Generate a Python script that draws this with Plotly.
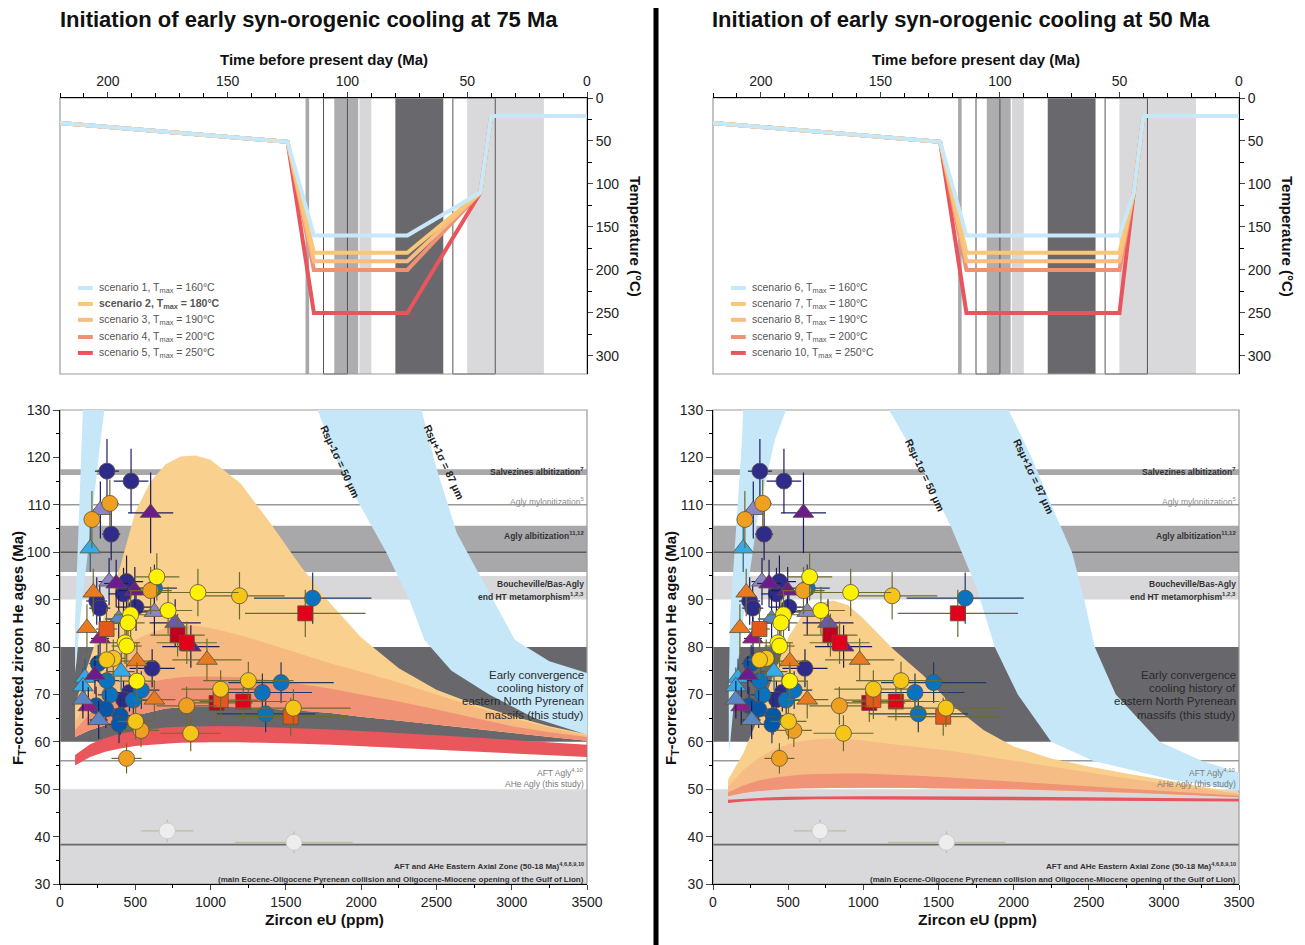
import plotly.graph_objects as go

FONT = 'Liberation Sans, Arial, sans-serif'

# ---------------- thermal histories (time in Ma, temperature in degC) ----------------
tt75_time = [220, 125, 114, 75, 44.5, 40, 0]
tt50_time = [220, 125, 114, 50, 44, 40, 0]
tt_start_temp = [29, 51]
tt_end_temp = [110, 21, 21]
tmax_list = [160, 180, 190, 200, 250]
names_75 = ['scenario 1, T<sub>max</sub> = 160°C', '<b>scenario 2, T<sub>max</sub> = 180°C</b>',
            'scenario 3, T<sub>max</sub> = 190°C', 'scenario 4, T<sub>max</sub> = 200°C',
            'scenario 5, T<sub>max</sub> = 250°C']
names_50 = ['scenario 6, T<sub>max</sub> = 160°C', 'scenario 7, T<sub>max</sub> = 180°C',
            'scenario 8, T<sub>max</sub> = 190°C', 'scenario 9, T<sub>max</sub> = 200°C',
            'scenario 10, T<sub>max</sub> = 250°C']

# geological event windows
event_bands_ma = [[117.5, 116], [105.5, 95.5], [95, 90], [80, 60], [50, 18]]
event_boxes_ma = [[110, 100], [56, 38.3]]
age_bands = [[116.3, 117.5], [95.8, 105.6], [90, 95], [60, 80], [30, 50]]
age_lines = [110, 100, 56, 38.3]

# ---------------- modelled age envelopes (eU in ppm, age in Ma) ----------------
env_eu = [100, 200, 300, 400, 500, 600, 700, 800, 900, 1000, 1200, 1400, 1600, 1800, 2000,
          2250, 2500, 2750, 3000, 3250, 3500]

env75_s2 = [68, 77.5, 87, 97, 108.5, 114.8, 118.5, 120.2, 120.4, 119.5, 114.5, 106, 97, 89, 82,
            75.5, 71, 68, 65.5, 63.3, 61.6]
env75_s3 = [64, 70, 75, 79, 81.5, 83, 84, 84.5, 84.5, 84, 82.5, 80.5, 78.5, 76.5, 74.8,
            72.5, 70, 67.5, 65, 63, 61.3]
env75_s4 = [62.5, 66, 68.5, 70.3, 71.7, 72.6, 73.2, 73.6, 73.8, 73.8, 73.6, 73, 72.2, 71.2, 70,
            68.5, 66.8, 65, 63.3, 62, 61.0]
env75_low = [61, 62.5, 63.5, 64.5, 65.5, 66.3, 67, 67.3, 67.5, 67.5, 67.3, 67, 66.6, 66.1, 65.3,
             64.5, 63.6, 62.8, 61.9, 61, 60.2]
env75_s5_top = [57.2, 59.5, 60.8, 61.7, 62.3, 62.7, 63.0, 63.2, 63.3, 63.3, 63.3, 63.1, 62.9, 62.6,
                62.3, 61.9, 61.4, 60.9, 60.4, 59.9, 59.4]
env75_s5_low = [55.0, 56.8, 57.9, 58.6, 59.1, 59.4, 59.6, 59.8, 59.9, 59.9, 59.9, 59.8, 59.6, 59.4,
                59.1, 58.8, 58.4, 58.0, 57.6, 57.2, 56.8]

env50_s7 = [52, 57.5, 65, 74, 82, 87, 89.3, 89.8, 88.8, 86, 79.5, 74, 67.5, 62.5, 59,
            56.5, 54.8, 53.3, 52, 50.5, 49.2]
env50_s8 = [50.5, 54, 56.5, 58.3, 59.5, 60.2, 60.6, 60.7, 60.6, 60.3, 59.5, 58.8, 58, 57, 56,
            54.7, 53.5, 52.3, 51.2, 50.2, 49]
env50_s9 = [49.3, 50.8, 51.8, 52.4, 52.8, 53.1, 53.2, 53.3, 53.3, 53.3, 53.1, 52.8, 52.4, 52, 51.6,
            51.1, 50.6, 50.1, 49.6, 49.1, 48.6]
env50_low = [48.5, 49.2, 49.6, 49.9, 50.1, 50.2, 50.3, 50.3, 50.3, 50.3, 50.3, 50.2, 50.2, 50.1, 50.0,
             49.8, 49.6, 49.3, 49.0, 48.7, 48.3]
env50_s10_top = [47.8, 48.0, 48.2, 48.3, 48.4, 48.45, 48.5, 48.5, 48.5, 48.5, 48.5, 48.5, 48.5, 48.45,
                 48.4, 48.35, 48.3, 48.2, 48.1, 48.05, 48.0]
env50_s10_low = [47.1, 47.4, 47.6, 47.7, 47.8, 47.85, 47.9, 47.9, 47.9, 47.9, 47.9, 47.9, 47.9, 47.85,
                 47.8, 47.75, 47.7, 47.6, 47.5, 47.45, 47.4]

# scenario 1 / 6 envelope (Rs 50-87 um), only the parts below 130 Ma
sliver75_eu = [100, 100, 117, 144, 152, 295, 270, 185, 133, 110]
sliver75_age = [74.5, 85.7, 100, 123.7, 130, 130, 123.7, 100, 85.7, 77]
sliver50_eu = [105, 105, 113, 160, 193, 200, 486, 412, 300, 200, 150, 115]
sliver50_age = [57.7, 70, 85.7, 108, 123.7, 130, 130, 123.7, 108, 85.7, 72, 60]

rs50_75_eu = [1711, 1830, 1973, 2167, 2320, 2420, 2600, 2850, 3150, 3500]
rs50_75_age = [130, 120, 111, 100, 90, 81.5, 75, 70, 65, 61.5]
rs87_75_eu = [2401, 2498, 2636, 2830, 3022, 3250, 3500]
rs87_75_age = [130, 118, 104, 92.7, 81.5, 77, 74.5]
rs50_50_eu = [1172, 1389, 1583, 1750, 1875, 2028, 2250, 2528, 3056, 3500]
rs50_50_age = [130, 118, 105.4, 92.8, 80, 70, 60, 56, 52, 49.8]
rs87_50_eu = [1967, 2120, 2250, 2389, 2470, 2540, 2680, 2972, 3250, 3500]
rs87_50_age = [130, 120, 110, 100, 90, 80, 70, 60, 56, 53.5]

# ---------------- measured zircon (U-Th)/He ages ----------------
pt_kind = (['nc'] * 11 + ['bc'] * 9 + ['dc'] * 5 + ['oc'] * 6 + ['yc'] * 8 + ['gc'] * 8 +
           ['lbt'] * 4 + ['lvt'] * 3 + ['spt'] + ['pt'] * 5 + ['mt'] * 2 + ['ot'] * 5 +
           ['sbt'] * 3 + ['rs'] * 3 + ['drs'] * 2 + ['ors'] * 3 + ['gp'] * 2)
pt_eu = [312, 472, 340, 442, 422, 244, 264, 505, 612, 461, 422,
         627, 1678, 1468, 1344, 1366, 487, 331, 312, 540,
         254, 240, 304, 400, 392,
         331, 212, 602, 841, 442, 538,
         643, 916, 718, 469, 452, 432, 443, 511,
         1192, 354, 310, 1067, 1251, 1550, 868, 502,
         201, 406, 166, 152,
         268, 326, 627,
         765,
         602, 373, 497, 869, 232,
         266, 188,
         221, 179, 511, 976, 627,
         390, 152, 257,
         842, 1217, 1629,
         781, 1040,
         309, 1067, 1532,
         712, 1554]
pt_age = [117.1, 115.0, 103.8, 93.8, 91.2, 89.7, 88.2, 88.4, 75.5, 70.4, 68.9,
          92.4, 90.3, 72.5, 70.4, 65.9, 68.8, 69.9, 72.9, 70.9,
          76.5, 67.6, 66.9, 65.5, 63.7,
          110.3, 106.9, 91.9, 67.6, 56.5, 62.4,
          94.8, 91.5, 87.7, 86.8, 85.1, 80.9, 80.2, 72.8,
          90.8, 77.6, 77.3, 71.1, 72.9, 67.1, 61.8, 64.3,
          100.8, 74.8, 73.5, 71.7,
          108.9, 93.8, 87.4,
          85.1,
          108.3, 93.4, 91.9, 80.1, 74.1,
          81.8, 67.5,
          91.5, 84.0, 77.0, 77.3, 68.9,
          85.9, 68.9, 64.6,
          80.9, 68.5, 87.1,
          82.5, 68.2,
          83.8, 68.8, 65.3,
          41.2, 38.8]
pt_eu_err = [80, 115, 60, 110, 100, 70, 70, 130, 150, 110, 100,
             150, 390, 350, 330, 330, 110, 80, 80, 120,
             60, 60, 70, 90, 90,
             60, 50, 140, 200, 100, 120,
             150, 270, 160, 110, 110, 100, 100, 120,
             300, 80, 80, 260, 300, 380, 200, 120,
             40, 90, 40, 40,
             50, 70, 140,
             170,
             150, 80, 110, 190, 50,
             60, 40,
             50, 40, 120, 230, 140,
             90, 35, 60,
             200, 290, 400,
             180, 240,
             70, 250, 370,
             175, 390]
pt_age_err = [6.8, 6.8, 5.5, 5.5, 5.5, 5, 5, 5, 4, 4, 4,
              5, 5.4, 4.3, 4, 3.9, 4, 4, 4, 4,
              4, 4, 4, 4, 4,
              5, 6, 5, 4, 3.2, 3.5,
              5, 5, 5, 5, 5, 4.5, 4.5, 4,
              5, 4, 4, 4, 4, 4, 3.8, 3.8,
              5, 4, 4, 4,
              6, 5, 5,
              5,
              8.5, 5, 5, 4.5, 4,
              4.5, 4,
              5, 5, 4, 4.5, 4,
              5, 4, 4,
              4.5, 4, 5,
              4.5, 4,
              4.5, 4, 4,
              2.4, 2.3]

# marker styles: symbol, fill, error-bar colour, size
kind_style = {
    'nc': ('circle', '#2e2b8a', '#1c1c5c', 16),
    'bc': ('circle', '#0b72c0', '#1f3a62', 16),
    'dc': ('circle', '#0a56a6', '#1f3062', 16),
    'lbt': ('triangle-up', '#35aae6', '#245f8a', 18),
    'lvt': ('triangle-up', '#8c84c4', '#1c1c5c', 18),
    'spt': ('triangle-up', '#6c5aa6', '#1c1c5c', 18),
    'pt': ('triangle-up', '#6b1c8c', '#1c1c5c', 18),
    'mt': ('triangle-up', '#8e1a8c', '#1c1c5c', 18),
    'sbt': ('triangle-up', '#5a86c6', '#1c1c5c', 18),
    'ot': ('triangle-up', '#e87a20', '#6e6a2a', 18),
    'drs': ('square', '#c0001e', '#6e6a2a', 15),
    'rs': ('square', '#e3001b', '#6e6a2a', 15),
    'ors': ('square', '#e4581c', '#6e6a2a', 15),
    'oc': ('circle', '#f0a020', '#6e6a2a', 16),
    'gc': ('circle', '#f5c518', '#6e6a2a', 16),
    'yc': ('circle', '#fff200', '#6e6a2a', 16),
    'gp': ('circle', '#ededed', '#b8c0a0', 16),
}

W, H = 1305, 945
OFF = 8  # the page body adds an 8 px margin around the figure


def px(x):
    return (x - OFF) / W


def py(y):
    return 1 - (y - OFF) / H


X_DOM = [[px(60), px(587)], [px(713), px(1239)]]
Y_TOP = [py(374), py(98)]
Y_BOT = [py(884), py(410)]

fig = go.Figure()
shapes = []
annos = []

line_cols = ['#c7e8f8', '#f8c878', '#f7bb84', '#ef9173', '#e8555c']
band_cols = ['#a9a9ac', '#adadb0', '#d7d7d9', '#69696d', '#d9d9db']
age_band_cols = ['#a8a8ab', '#a8a8ab', '#d8d8da', '#68686c', '#d9d9db']
age_line_cols = ['#9a9a9a', '#5a5a5a', '#9a9a9a', '#6a6a6a']


def poly(xs_top, ys_top, xs_bot, ys_bot):
    return xs_top + xs_bot[::-1], ys_top + ys_bot[::-1]


def paper_text(xp, yp, text, size, angle=0):
    annos.append(dict(xref='paper', yref='paper', x=px(xp), y=py(yp), text=text,
                      showarrow=False, xanchor='center', yanchor='middle', textangle=angle,
                      font=dict(family=FONT, size=size, color='#111111')))


def panel(col, tt_time, names, envs, sliver, band, rs_pos, title, x0p, x1p):
    xt, yt = ('x', 'y') if col == 0 else ('x3', 'y3')
    xb, yb = ('x2', 'y2') if col == 0 else ('x4', 'y4')
    cx = (x0p + x1p) / 2

    # ---- top: time-temperature paths ----
    for (a, b), c in zip(event_bands_ma, band_cols):
        shapes.append(dict(type='rect', xref=xt, yref=yt + ' domain', x0=a, x1=b, y0=0, y1=1,
                           fillcolor=c, line_width=0, layer='below'))
    for a, b in event_boxes_ma:
        shapes.append(dict(type='rect', xref=xt, yref=yt + ' domain', x0=a, x1=b, y0=0, y1=1,
                           line=dict(color='#555555', width=1), layer='below'))
    shapes.append(dict(type='rect', xref=xt + ' domain', yref=yt + ' domain', x0=0, x1=1, y0=0, y1=1,
                       line=dict(color='#9a9a9a', width=1.2), layer='below'))
    for i in range(4, -1, -1):
        temps = tt_start_temp + [tmax_list[i], tmax_list[i]] + tt_end_temp
        fig.add_trace(go.Scatter(x=tt_time, y=temps, mode='lines', xaxis=xt, yaxis=yt,
                                 line=dict(color=line_cols[i], width=4), showlegend=False,
                                 hoverinfo='skip'))
    # legend
    rows = [221, 239.5, 258, 278, 296.5]
    for i, r in enumerate(rows):
        shapes.append(dict(type='line', xref=xt, yref=yt, x0=212.5, x1=206.3, y0=r, y1=r,
                           line=dict(color=line_cols[i], width=4), layer='above'))
        annos.append(dict(xref=xt, yref=yt, x=204.6, y=r, text=names[i], showarrow=False,
                          xanchor='left', yanchor='middle',
                          font=dict(family=FONT, size=10.5, color='#555555')))

    # ---- bottom: age vs eU ----
    for (a, b), c in zip(age_bands, age_band_cols):
        shapes.append(dict(type='rect', xref=xb + ' domain', yref=yb, x0=0, x1=1, y0=a, y1=b,
                           fillcolor=c, line_width=0, layer='below'))
    for v, c in zip(age_lines, age_line_cols):
        shapes.append(dict(type='line', xref=xb + ' domain', yref=yb, x0=0, x1=1, y0=v, y1=v,
                           line=dict(color=c, width=1.6), layer='below'))
    shapes.append(dict(type='rect', xref=xb + ' domain', yref=yb + ' domain', x0=0, x1=1, y0=0, y1=1,
                       line=dict(color='#9a9a9a', width=1.2), layer='below'))

    blue = '#c6e7f8'
    fig.add_trace(go.Scatter(x=sliver[0], y=sliver[1], fill='toself', fillcolor=blue, mode='lines',
                             line=dict(width=0), xaxis=xb, yaxis=yb, showlegend=False, hoverinfo='skip'))
    bx, by = poly(band[0], band[1], band[2], band[3])
    fig.add_trace(go.Scatter(x=bx, y=by, fill='toself', fillcolor=blue, mode='lines',
                             line=dict(width=0), xaxis=xb, yaxis=yb, showlegend=False, hoverinfo='skip'))
    for top, low, c in envs:
        ex, ey = poly(env_eu, top, env_eu, low)
        fig.add_trace(go.Scatter(x=ex, y=ey, fill='toself', fillcolor=c, mode='lines',
                                 line=dict(width=0), xaxis=xb, yaxis=yb, showlegend=False,
                                 hoverinfo='skip'))

    for k, (sym, fill, ecol, size) in kind_style.items():
        idx = [i for i, kk in enumerate(pt_kind) if kk == k]
        fig.add_trace(go.Scatter(
            x=[pt_eu[i] for i in idx], y=[pt_age[i] for i in idx], mode='markers',
            xaxis=xb, yaxis=yb, showlegend=False,
            marker=dict(symbol=sym, size=size, color=fill,
                        line=dict(color='#5a5040' if k != 'gp' else '#c8c8c8', width=0.8)),
            error_x=dict(type='data', array=[pt_eu_err[i] for i in idx], color=ecol,
                         thickness=1.2, width=0),
            error_y=dict(type='data', array=[pt_age_err[i] for i in idx], color=ecol,
                         thickness=1.2, width=0)))

    # event labels
    def lab(y, text, color='#333333', size=8.5, bold=True):
        annos.append(dict(xref=xb, yref=yb, x=3495, y=y, text=('<b>%s</b>' % text) if bold else text,
                          showarrow=False, xanchor='right', yanchor='middle',
                          font=dict(family=FONT, size=size, color=color)))
    lab(117.0, 'Salvezines albitization<sup>7</sup>')
    lab(110.8, 'Agly mylonitization<sup>5</sup>', '#8a8a8a', 8.5, False)
    lab(103.6, 'Agly albitization<sup>11,12</sup>')
    lab(93.3, 'Boucheville/Bas-Agly')
    lab(90.6, 'end HT metamorphism<sup>1,2,3</sup>')
    for y, t in zip([74.1, 71.4, 68.6, 65.7], ['Early convergence', 'cooling history of',
                                               'eastern North Pyrenean', 'massifs (this study)']):
        lab(y, t, '#2a2a2a', 11.5, False)
    lab(53.6, 'AFT Agly<sup>4,10</sup>', '#7a7a7a', 8.5, False)
    lab(51.0, 'AHe Agly (this study)', '#7a7a7a', 8.5, False)
    lab(33.7, 'AFT and AHe Eastern Axial Zone (50-18 Ma)<sup>4,6,8,9,10</sup>', '#333333', 8)
    lab(31.0, '(main Eocene-Oligocene Pyrenean collision and Oligocene-Miocene opening of the Gulf of Lion)',
        '#333333', 8)
    for (ex, ey), t in zip(rs_pos, ['Rsμ-1σ = 50 μm', 'Rsμ+1σ = 87 μm']):
        annos.append(dict(xref=xb, yref=yb, x=ex, y=ey, text='<b>%s</b>' % t, showarrow=False,
                          xanchor='center', yanchor='middle', textangle=65,
                          font=dict(family=FONT, size=10.5, color='#222222')))

    # titles
    paper_text(cx - 15, 20, '<b>%s</b>' % title, 22)
    paper_text(cx, 60, '<b>Time before present day (Ma)</b>', 15)
    paper_text(x1p + 49, 236, '<b>Temperature (°C)</b>', 15, 90)
    paper_text(cx + 1, 919, '<b>Zircon eU (ppm)</b>', 15.5)
    paper_text(x0p - 42, 648, '<b>F<sub>T</sub>-corrected zircon He ages (Ma)</b>', 15, -90)

    tick_font = dict(family=FONT, size=14, color='#222222')
    n = '' if col == 0 else str(2 * col + 1)
    nb = str(2 * col + 2)
    fig.update_layout(**{
        'xaxis' + n: dict(domain=X_DOM[col], anchor=yt, side='top', range=[220, 0],
                          tickvals=[200, 150, 100, 50, 0], ticks='outside', ticklen=5,
                          minor=dict(dtick=10, ticks='outside', ticklen=4, tickcolor='black'),
                          showline=True, linecolor='black', linewidth=1, showgrid=False,
                          zeroline=False, tickfont=tick_font),
        'yaxis' + n: dict(domain=Y_TOP, anchor=xt, side='right', range=[321, 0],
                          tickvals=[0, 50, 100, 150, 200, 250, 300], ticks='outside', ticklen=5,
                          minor=dict(dtick=25, ticks='outside', ticklen=4, tickcolor='black'),
                          showline=True, linecolor='black', linewidth=1, showgrid=False,
                          zeroline=False, tickfont=tick_font),
        'xaxis' + nb: dict(domain=X_DOM[col], anchor=yb, range=[0, 3500], dtick=500,
                           ticks='outside', ticklen=5,
                           minor=dict(dtick=250, ticks='outside', ticklen=3, tickcolor='black'),
                           showline=True, linecolor='black', linewidth=1, showgrid=False,
                           zeroline=False, tickfont=tick_font),
        'yaxis' + nb: dict(domain=Y_BOT, anchor=xb, range=[30, 130], dtick=10, ticks='outside',
                           ticklen=6, minor=dict(dtick=5, ticks='outside', ticklen=3, tickcolor='black'),
                           showline=True, linecolor='black', linewidth=1, showgrid=False,
                           zeroline=False, tickfont=tick_font),
    })


panel(0, tt75_time, names_75,
      [(env75_s2, env75_low, '#fad08e'), (env75_s3, env75_low, '#f6ba80'),
       (env75_s4, env75_low, '#f09276'), (env75_s5_top, env75_s5_low, '#e9575d')],
      (sliver75_eu, sliver75_age), (rs50_75_eu, rs50_75_age, rs87_75_eu, rs87_75_age),
      [(1863, 119.1), (2553, 119.1)], 'Initiation of early syn-orogenic cooling at 75 Ma', 60, 587)
panel(1, tt50_time, names_50,
      [(env50_s7, env50_low, '#f9cf8c'), (env50_s8, env50_low, '#f6bc85'),
       (env50_s9, env50_low, '#f09377'), (env50_s10_top, env50_s10_low, '#e9555c')],
      (sliver50_eu, sliver50_age), (rs50_50_eu, rs50_50_age, rs87_50_eu, rs87_50_age),
      [(1411, 116.3), (2133, 116.0)], 'Initiation of early syn-orogenic cooling at 50 Ma', 713, 1239)

# separator between the two columns
shapes.append(dict(type='line', xref='paper', yref='paper', x0=px(656), x1=px(656), y0=0, y1=1,
                   line=dict(color='black', width=5)))

fig.update_layout(width=W, height=H, margin=dict(l=0, r=0, t=0, b=0, autoexpand=False),
                  plot_bgcolor='white', paper_bgcolor='white', showlegend=False,
                  shapes=shapes, annotations=annos, font=dict(family=FONT))

fig.write_html('out.html')
